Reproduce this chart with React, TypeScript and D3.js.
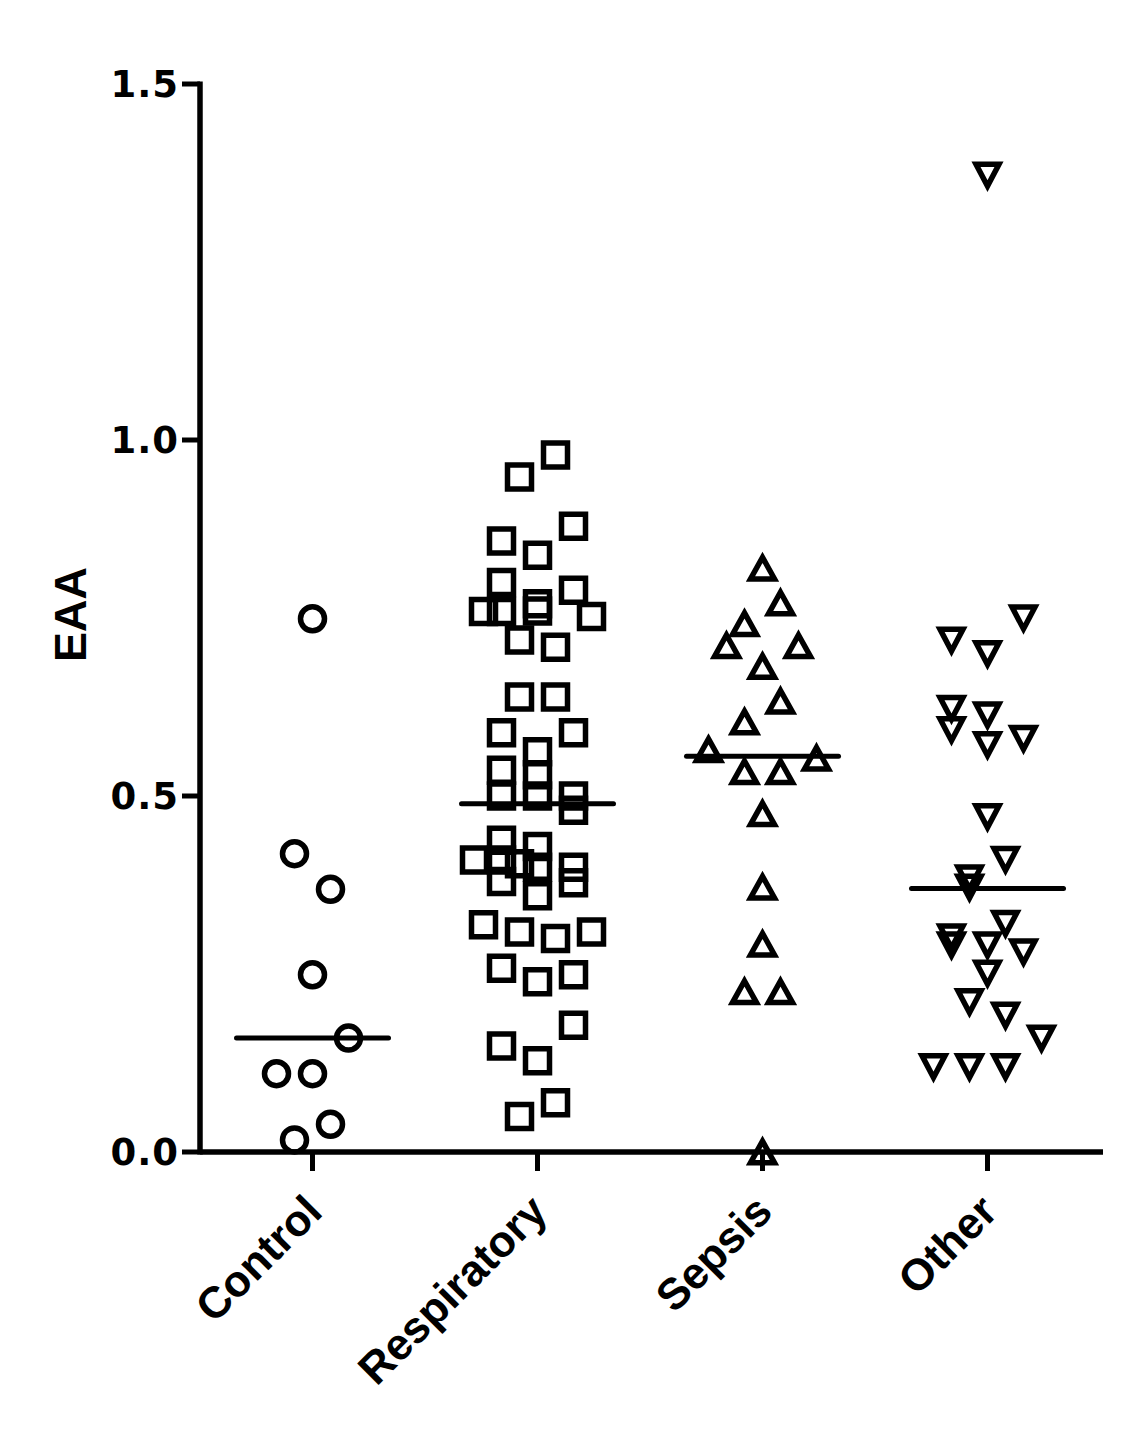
import React from 'react';
import * as d3 from 'd3';

const width = 1131, height = 1431;
const margin = { top: 84, left: 200, right: 31, bottom: 279 };

// categories and their marker shapes
const categories = ['Control', 'Respiratory', 'Sepsis', 'Other'];
const shapes = ['circle', 'square', 'triUp', 'triDown'];

// EAA values per group
const controlValues = [0.749, 0.419, 0.369, 0.249, 0.16, 0.11, 0.11, 0.039, 0.017];
const respiratoryValues = [
  0.979, 0.948, 0.879, 0.858, 0.838, 0.80, 0.789, 0.759, 0.759, 0.77, 0.76, 0.752,
  0.719, 0.709, 0.639, 0.639, 0.589, 0.589, 0.562, 0.536, 0.53, 0.50, 0.50, 0.50,
  0.48, 0.438, 0.429, 0.41, 0.41, 0.405, 0.40, 0.40, 0.38, 0.378, 0.36, 0.319,
  0.309, 0.30, 0.309, 0.258, 0.239, 0.249, 0.178, 0.149, 0.128, 0.069, 0.05
];
const sepsisValues = [
  0.82, 0.771, 0.742, 0.711, 0.711, 0.682, 0.633, 0.604, 0.565, 0.553, 0.534, 0.534,
  0.475, 0.372, 0.292, 0.225, 0.225, 0.0
];
const otherValues = [
  1.372, 0.75, 0.719, 0.70, 0.623, 0.614, 0.593, 0.572, 0.581, 0.471, 0.411, 0.385,
  0.372, 0.321, 0.302, 0.291, 0.291, 0.281, 0.251, 0.211, 0.192, 0.16, 0.12, 0.12, 0.12
];

// horizontal scatter column of each point (in half-symbol steps)
const controlSlots = [0, -1, 1, 0, 2, -2, 0, 1, -1];
const respiratorySlots = [
  1, -1, 2, -2, 0, -2, 2, -3, -2, 0, 0, 3,
  -1, 1, -1, 1, -2, 2, 0, -2, 0, -2, 0, 2,
  2, -2, 0, -3.5, -2, -1, 0, 2, -2, 2, 0, -3,
  -1, 1, 3, -2, 0, 2, 2, -2, 0, 1, -1
];
const sepsisSlots = [0, 1, -1, -2, 2, 0, 1, -1, -3, 3, -1, 1, 0, 0, 0, -1, 1, 0];
const otherSlots = [
  0, 2, -2, 0, -2, 0, -2, 0, 2, 0, 1, -1,
  -1, 1, -2, -2, 0, 2, 0, -1, 1, 3, -3, -1, 1
];

// median lines as drawn
const medians = [0.16, 0.489, 0.556, 0.37];

const yTicks = [0, 0.5, 1.0, 1.5];

const groups = [
  { values: controlValues, slots: controlSlots },
  { values: respiratoryValues, slots: respiratorySlots },
  { values: sepsisValues, slots: sepsisSlots },
  { values: otherValues, slots: otherSlots },
];

// triangle symbols centred on their bounding box
const triUp = {
  draw(ctx, size) {
    const w = Math.sqrt(size) / 2, h = w * 0.9;
    ctx.moveTo(0, -h);
    ctx.lineTo(w, h);
    ctx.lineTo(-w, h);
    ctx.closePath();
  }
};
const triDown = {
  draw(ctx, size) {
    const w = Math.sqrt(size) / 2, h = w * 0.95;
    ctx.moveTo(-w, -h);
    ctx.lineTo(w, -h);
    ctx.lineTo(0, h);
    ctx.closePath();
  }
};

const symbolPaths = {
  circle: d3.symbol().type(d3.symbolCircle).size(Math.PI * 12 * 12)(),
  square: d3.symbol().type(d3.symbolSquare).size(24 * 24)(),
  triUp: d3.symbol().type(triUp).size(24 * 24)(),
  triDown: d3.symbol().type(triDown).size(23 * 23)(),
};

export default function App() {
  const x = d3.scaleBand()
    .domain(categories)
    .range([margin.left, width - margin.right]);

  const y = d3.scaleLinear()
    .domain([0, 1.5])
    .range([height - margin.bottom, margin.top]);

  // column offset: one step is half a symbol width
  const slot = d3.scaleLinear().domain([0, 1]).range([0, 18]);

  const baseY = y(0);
  const tickFont = '"DejaVu Sans", sans-serif';
  const labelFont = '"Liberation Sans", Arial, sans-serif';

  return (
    <svg width={width} height={height} style={{ position: 'absolute', left: 0, top: 0, background: '#fff' }}>
      <rect width={width} height={height} fill="#fff" />

      {/* points */}
      {groups.map((g, gi) => {
        const cx = x(categories[gi]) + x.bandwidth() / 2;
        return (
          <g key={categories[gi]}>
            {g.values.map((v, i) => (
              <path key={i}
                d={symbolPaths[shapes[gi]]}
                transform={`translate(${cx + slot(g.slots[i])},${y(v)})`}
                fill="none" stroke="#000" strokeWidth={5.5} strokeLinejoin="miter" />
            ))}
            <line x1={cx - 76} x2={cx + 76} y1={y(medians[gi])} y2={y(medians[gi])}
              stroke="#000" strokeWidth={5} strokeLinecap="round" />
          </g>
        );
      })}

      {/* y axis */}
      <line x1={margin.left} x2={margin.left} y1={y(1.5) - 2.5} y2={baseY + 2.5} stroke="#000" strokeWidth={5.5} />
      {yTicks.map(t => (
        <g key={t}>
          <line x1={margin.left - 18} x2={margin.left} y1={y(t)} y2={y(t)} stroke="#000" strokeWidth={5} />
          <text x={margin.left - 21} y={y(t)} dy="0.36em" textAnchor="end"
            fontFamily={tickFont} fontWeight="bold" fontSize={37} letterSpacing={1}>
            {d3.format('.1f')(t)}
          </text>
        </g>
      ))}
      <text transform={`translate(86,${y(0.755)}) rotate(-90)`} textAnchor="middle"
        fontFamily={labelFont} fontWeight="bold" fontSize={45}>EAA</text>

      {/* x axis */}
      <line x1={margin.left} x2={width - 28} y1={baseY} y2={baseY} stroke="#000" strokeWidth={5.5} />
      {categories.map(c => {
        const cx = x(c) + x.bandwidth() / 2;
        return (
          <g key={c}>
            <line x1={cx} x2={cx} y1={baseY} y2={baseY + 19} stroke="#000" strokeWidth={5} />
            <text transform={`translate(${cx + 12},${baseY + 62}) rotate(-45)`} textAnchor="end"
              fontFamily={labelFont} fontWeight="bold" fontSize={44}>{c}</text>
          </g>
        );
      })}
    </svg>
  );
}
